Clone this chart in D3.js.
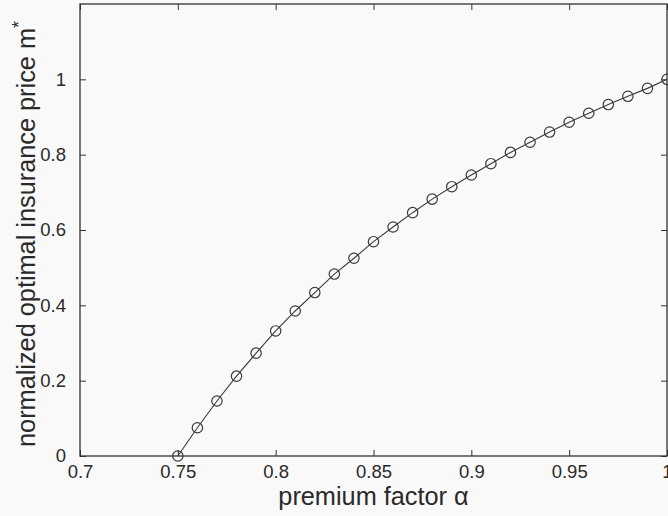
<!DOCTYPE html>
<html>
<head>
<meta charset="utf-8">
<script src="https://cdn.jsdelivr.net/npm/d3@7"></script>
<style>
  html, body { margin: 0; padding: 0; background: #f9f9f9; }
  svg { display: block; }
  text { font-family: "Liberation Sans", Arial, Helvetica, sans-serif; fill: #2a2a2a; }
</style>
</head>
<body>
<script>
// premium factor alpha values
const alphaValues = [0.75, 0.76, 0.77, 0.78, 0.79, 0.80, 0.81, 0.82, 0.83, 0.84, 0.85, 0.86, 0.87,
                     0.88, 0.89, 0.90, 0.91, 0.92, 0.93, 0.94, 0.95, 0.96, 0.97, 0.98, 0.99, 1.00];
// normalized optimal insurance price m*
const priceValues = [0.000, 0.075, 0.146, 0.212, 0.273, 0.332, 0.385, 0.434, 0.483, 0.525, 0.569, 0.608, 0.646,
                     0.682, 0.715, 0.746, 0.776, 0.806, 0.833, 0.860, 0.886, 0.910, 0.933, 0.955, 0.976, 1.000];
const xTicks = [0.7, 0.75, 0.8, 0.85, 0.9, 0.95, 1];
const yTicks = [0, 0.2, 0.4, 0.6, 0.8, 1];
const xTickLabels = ["0.7", "0.75", "0.8", "0.85", "0.9", "0.95", "1"];
const yTickLabels = ["0", "0.2", "0.4", "0.6", "0.8", "1"];

const W = 668, H = 516;
const mLeft = 80, mRight = 667, mTop = 4, mBottom = 456;

const svg = d3.select("body").append("svg").attr("width", W).attr("height", H);
svg.append("rect").attr("width", W).attr("height", H).attr("fill", "#f9f9f9");

const x = d3.scaleLinear().domain([0.7, 1]).range([mLeft, mRight]);
const y = d3.scaleLinear().domain([0, 1.2]).range([mBottom, mTop]);

const axisColor = "#333";
const tickLen = 6;

// bottom axis (ticks inward)
const gx = svg.append("g").attr("transform", `translate(0,${mBottom})`)
  .call(d3.axisBottom(x).tickValues(xTicks).tickSizeInner(-tickLen).tickSizeOuter(0)
        .tickFormat((d, i) => xTickLabels[i]).tickPadding(10));
gx.select(".domain").remove();
gx.selectAll("line").attr("stroke", axisColor);
gx.selectAll("text").attr("font-size", 18.5).attr("fill", "#2a2a2a").attr("dy", "0.71em").attr("y", 9);

// top axis ticks
const gxt = svg.append("g").attr("transform", `translate(0,${mTop})`)
  .call(d3.axisTop(x).tickValues(xTicks).tickSizeInner(-tickLen).tickSizeOuter(0).tickFormat(""));
gxt.select(".domain").remove();
gxt.selectAll("line").attr("stroke", axisColor);

// left axis
const gy = svg.append("g").attr("transform", `translate(${mLeft},0)`)
  .call(d3.axisLeft(y).tickValues(yTicks).tickSizeInner(-tickLen).tickSizeOuter(0)
        .tickFormat((d, i) => yTickLabels[i]).tickPadding(14));
gy.select(".domain").remove();
gy.selectAll("line").attr("stroke", axisColor);
gy.selectAll("text").attr("font-size", 18.5).attr("fill", "#2a2a2a");

// right axis ticks
const gyr = svg.append("g").attr("transform", `translate(${mRight},0)`)
  .call(d3.axisRight(y).tickValues(yTicks).tickSizeInner(-tickLen).tickSizeOuter(0).tickFormat(""));
gyr.select(".domain").remove();
gyr.selectAll("line").attr("stroke", axisColor);

// box
svg.append("rect").attr("x", mLeft).attr("y", mTop)
  .attr("width", mRight - mLeft).attr("height", mBottom - mTop)
  .attr("fill", "none").attr("stroke", axisColor).attr("stroke-width", 1.3);

// data
const data = alphaValues.map((a, i) => ({a, m: priceValues[i]}));
const line = d3.line().x(d => x(d.a)).y(d => y(d.m));
svg.append("path").datum(data).attr("d", line)
  .attr("fill", "none").attr("stroke", "#3a3a3a").attr("stroke-width", 1.1);
svg.append("g").selectAll("circle").data(data).join("circle")
  .attr("cx", d => x(d.a)).attr("cy", d => y(d.m)).attr("r", 5.2)
  .attr("fill", "none").attr("stroke", "#3a3a3a").attr("stroke-width", 1.2);

// axis labels
const xl = svg.append("text").attr("x", (mLeft + mRight) / 2).attr("y", 505)
  .attr("text-anchor", "middle").attr("font-size", 25.3);
xl.append("tspan").text("premium factor ");
xl.append("tspan").text("α");

const yl = svg.append("text")
  .attr("transform", `translate(35,447) rotate(-90)`)
  .attr("text-anchor", "start").attr("font-size", 25.3);
yl.append("tspan").text("normalized optimal insurance price m");
yl.append("tspan").attr("baseline-shift", "super").attr("font-size", 18).text("*");
</script>
</body>
</html>
